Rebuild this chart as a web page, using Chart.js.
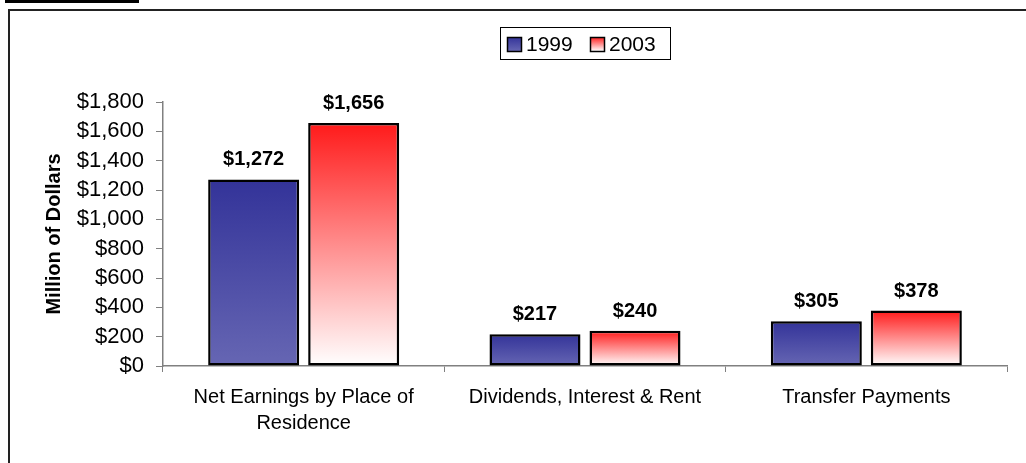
<!DOCTYPE html>
<html>
<head>
<meta charset="utf-8">
<script src="https://cdn.jsdelivr.net/npm/chart.js@4/dist/chart.umd.min.js"></script>
<style>
  body { margin: 0; background: #fff; overflow: hidden; }
  #wrap { position: relative; width: 1026px; height: 463px; }
  #topbar { position: absolute; left: 5px; top: 0; width: 134px; height: 3px; background: #000; }
  #frame { position: absolute; left: 8px; top: 9px; width: 1100px; height: 600px; border: 2px solid #222; }
  canvas { position: absolute; left: 0; top: 0; }
</style>
</head>
<body>
<div id="wrap">
  <div id="topbar"></div>
  <div id="frame"></div>
  <canvas id="cardCanvas" width="1026" height="463"></canvas>
</div>
<script>
const categories = [["Net Earnings by Place of", "Residence"], "Dividends, Interest & Rent", "Transfer Payments"];
const seriesNames = ["1999", "2003"];
const values1999 = [1272, 217, 305];
const values2003 = [1656, 240, 378];
const yTicks = [0, 200, 400, 600, 800, 1000, 1200, 1400, 1600, 1800];

const FONT = "'Liberation Sans', Arial, sans-serif";

function money(v) {
    return "$" + v.toLocaleString("en-US");
}

// degrade vertical sur chaque barre
function barGradient(top, bottom) {
    return function (ctx) {
        const chart = ctx.chart;
        if (!chart.chartArea || ctx.type !== "data") return top;
        const ys = chart.scales.y;
        const y0 = ys.getPixelForValue(ctx.raw);
        const y1 = ys.getPixelForValue(0);
        const g = chart.ctx.createLinearGradient(0, y0, 0, y1);
        g.addColorStop(0, top);
        g.addColorStop(1, bottom);
        return g;
    };
}

// etiquettes au dessus des barres
const valueLabels = {
    id: "valueLabels",
    afterDatasetsDraw(chart) {
        const c = chart.ctx;
        c.save();
        c.font = "bold 20px " + FONT;
        c.fillStyle = "#000";
        c.textAlign = "center";
        c.textBaseline = "alphabetic";
        chart.data.datasets.forEach((ds, i) => {
            chart.getDatasetMeta(i).data.forEach((bar, j) => {
                c.fillText(money(ds.data[j]), bar.x, bar.y - 14);
            });
        });
        c.restore();
    }
};

// legende encadree
const boxLegend = {
    id: "boxLegend",
    afterDraw(chart) {
        const c = chart.ctx;
        c.save();
        c.strokeStyle = "#000";
        c.lineWidth = 1;
        c.strokeRect(500.5, 27.5, 170, 32);
        const items = [
            { x: 507, top: "#333399", bottom: "#6666b3" },
            { x: 590, top: "#ff1a1a", bottom: "#ffffff" }
        ];
        c.font = "21px " + FONT;
        c.textBaseline = "middle";
        c.textAlign = "left";
        items.forEach((it, i) => {
            const g = c.createLinearGradient(0, 37, 0, 51);
            g.addColorStop(0, it.top);
            g.addColorStop(1, it.bottom);
            c.fillStyle = g;
            c.fillRect(it.x, 37, 14, 14);
            c.strokeStyle = "#000";
            c.lineWidth = 1.5;
            c.strokeRect(it.x + 0.5, 37.5, 14, 14);
            c.fillStyle = "#000";
            c.fillText(seriesNames[i], it.x + 19, 45);
        });
        c.restore();
    }
};

const cardCanvas = document.getElementById("cardCanvas");

const barChart = new Chart(cardCanvas, {
    type: "bar",
    data: {
        labels: categories,
        datasets: [
            {
                label: seriesNames[0],
                data: values1999,
                backgroundColor: barGradient("#333399", "#6666b3"),
                borderColor: "#000",
                borderWidth: 2.5,
                borderSkipped: false
            },
            {
                label: seriesNames[1],
                data: values2003,
                backgroundColor: barGradient("#ff1a1a", "#ffffff"),
                borderColor: "#000",
                borderWidth: 2.5,
                borderSkipped: false
            }
        ]
    },
    options: {
        responsive: false,
        animation: false,
        devicePixelRatio: 1,
        layout: { padding: { top: 102, right: 19, bottom: 0, left: 0 } },
        categoryPercentage: 0.711,
        barPercentage: 0.91,
        plugins: {
            legend: { display: false },
            tooltip: { enabled: false }
        },
        scales: {
            x: {
                grid: { drawOnChartArea: false, drawTicks: true, tickLength: 6, color: "#808080", offset: true },
                border: { color: "#808080", width: 1.5 },
                ticks: {
                    color: "#000",
                    font: { family: FONT, size: 20, lineHeight: 1.3 },
                    padding: 12,
                    maxRotation: 0,
                    autoSkip: false
                },
                afterFit(s) { s.height = 97; }
            },
            y: {
                min: 0,
                max: 1800,
                afterBuildTicks(s) { s.ticks = yTicks.map(v => ({ value: v })); },
                grid: { drawOnChartArea: false, drawTicks: true, tickLength: 7, color: "#808080" },
                border: { color: "#808080", width: 1.5 },
                ticks: {
                    color: "#000",
                    font: { family: FONT, size: 22 },
                    padding: 12,
                    autoSkip: false,
                    callback: v => money(v)
                },
                title: {
                    display: true,
                    text: "Million of Dollars",
                    color: "#000",
                    font: { family: FONT, size: 20, weight: "bold", lineHeight: 1.2 },
                    padding: { top: 42, bottom: 0 }
                },
                afterFit(s) { s.width = 163; }
            }
        }
    },
    plugins: [valueLabels, boxLegend]
});
</script>
</body>
</html>
